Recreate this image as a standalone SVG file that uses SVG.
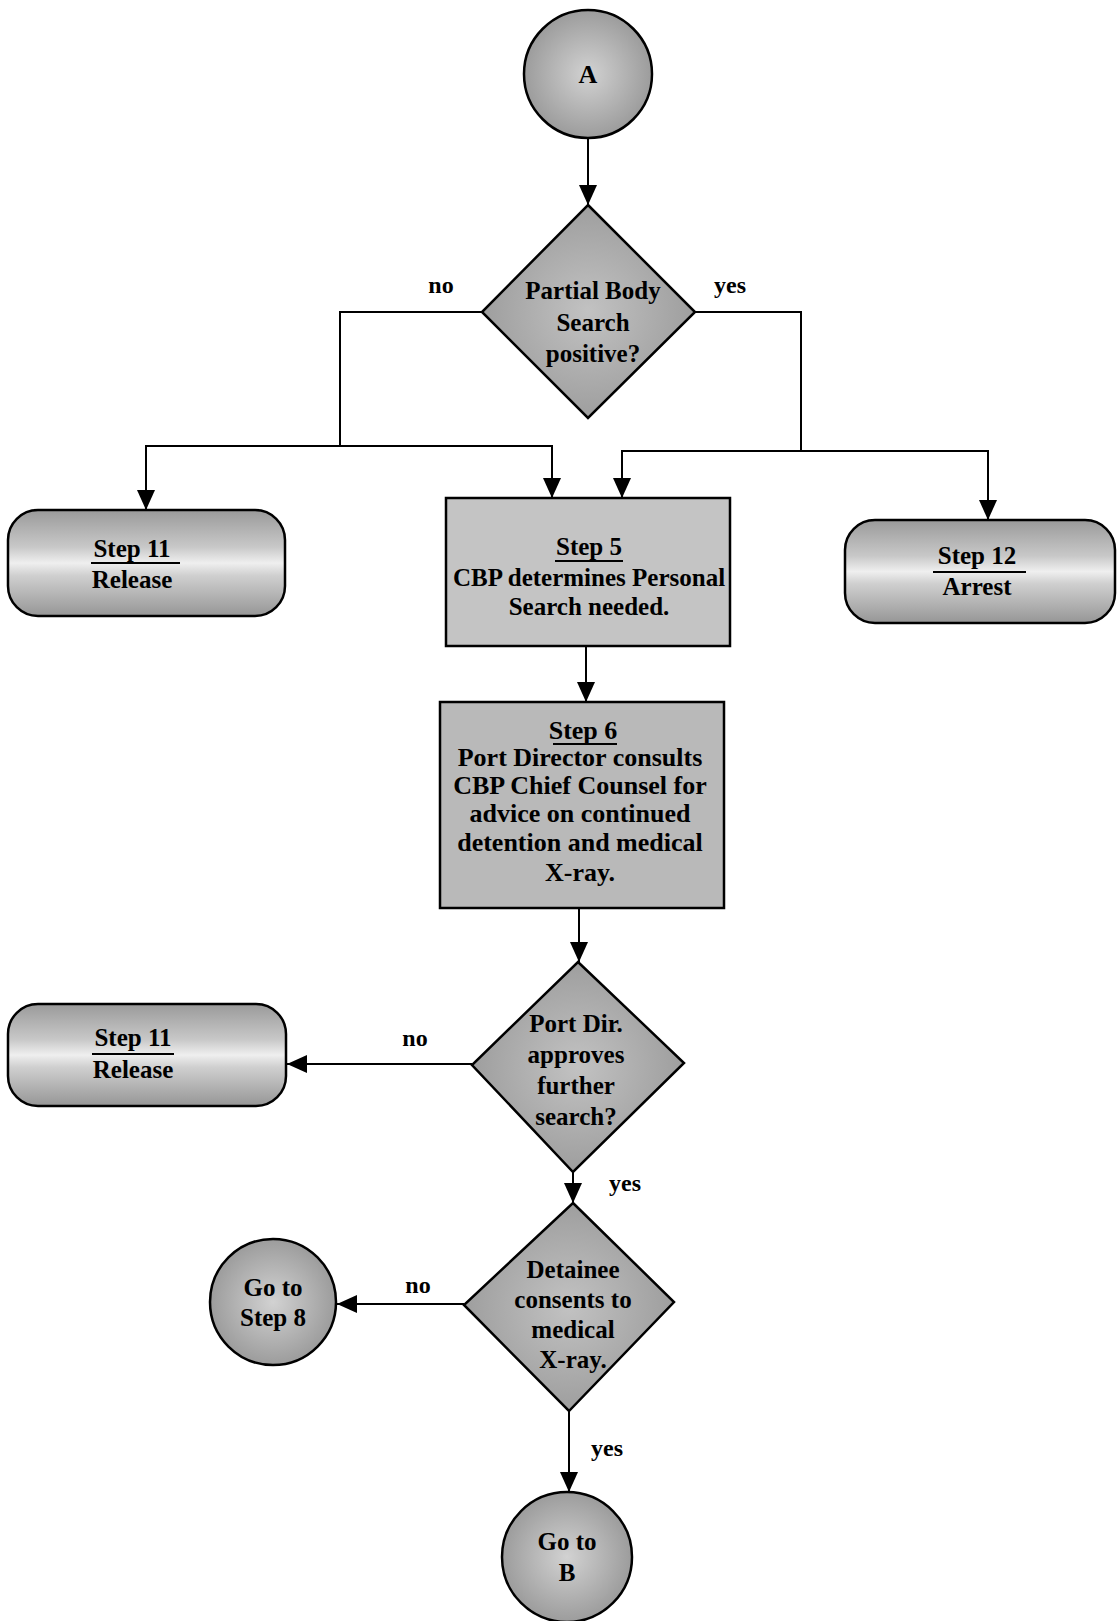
<svg xmlns="http://www.w3.org/2000/svg" width="1117" height="1621" viewBox="0 0 1117 1621">
<defs>
<style>
.shape{stroke:#000;stroke-width:2.5}
.circ{fill:url(#gCirc)}
.dia{fill:url(#gDia)}
.term{fill:url(#gTerm)}
.box5{fill:#c4c4c4}
.box6{fill:#b9b9b9}
.conn{fill:none;stroke:#000;stroke-width:2}
.arr{marker-end:url(#ah)}
text{font-family:"Liberation Serif","Times New Roman",serif;font-weight:bold;font-size:25px;fill:#000;text-anchor:middle}
.big{font-size:26px}
.lbl{font-size:24px}
.ul{stroke:#000;stroke-width:2}
</style>
<radialGradient id="gCirc" cx="0.5" cy="0.5" r="0.5">
<stop offset="0" stop-color="#d2d2d2"/>
<stop offset="1" stop-color="#9c9c9c"/>
</radialGradient>
<radialGradient id="gDia" cx="0.5" cy="0.5" r="0.5">
<stop offset="0" stop-color="#c2c2c2"/>
<stop offset="1" stop-color="#9e9e9e"/>
</radialGradient>
<linearGradient id="gTerm" x1="0" y1="0" x2="0" y2="1">
<stop offset="0" stop-color="#9a9a9a"/>
<stop offset="0.35" stop-color="#c8c8c8"/>
<stop offset="0.5" stop-color="#efefef"/>
<stop offset="0.62" stop-color="#cfcfcf"/>
<stop offset="1" stop-color="#969696"/>
</linearGradient>
<marker id="ah" viewBox="0 0 20 18" markerWidth="20" markerHeight="18" refX="20" refY="9" orient="auto" markerUnits="userSpaceOnUse">
<path d="M0,0 L20,9 L0,18 Z" fill="#000"/>
</marker>
</defs>
<rect width="1117" height="1621" fill="#fff"/>

<g id="connectors">
<path class="conn arr" d="M588,139 V205"/>
<path class="conn" d="M482,312 H340 V446"/>
<path class="conn arr" d="M340,446 H146 V510"/>
<path class="conn arr" d="M340,446 H552 V498"/>
<path class="conn" d="M695,312 H801 V451"/>
<path class="conn arr" d="M801,451 H622 V498"/>
<path class="conn arr" d="M801,451 H988 V520"/>
<path class="conn arr" d="M586,646 V702"/>
<path class="conn arr" d="M579,908 V962"/>
<path class="conn arr" d="M472,1064 H287"/>
<path class="conn arr" d="M573,1172 V1203"/>
<path class="conn arr" d="M464,1304 H337"/>
<path class="conn arr" d="M569,1411 V1492"/>
<text class="lbl" x="441" y="293">no</text>
<text class="lbl" x="730" y="293">yes</text>
<text class="lbl" x="415" y="1046">no</text>
<text class="lbl" x="625" y="1191">yes</text>
<text class="lbl" x="418" y="1293">no</text>
<text class="lbl" x="607" y="1456">yes</text>
</g>

<g id="nodeA">
<circle class="shape circ" cx="588" cy="74" r="64"/>
<text class="big" x="588" y="83">A</text>
</g>

<g id="decision1">
<polygon class="shape dia" points="588,205 695,312 588,418 482,312"/>
<text x="593" y="299">Partial Body</text>
<text x="593" y="331">Search</text>
<text x="593" y="362">positive?</text>
</g>

<g id="step11a">
<rect class="shape term" x="8" y="510" width="277" height="106" rx="30"/>
<text x="132" y="557">Step 11</text>
<line class="ul" x1="91" y1="563" x2="180" y2="563"/>
<text x="132" y="588">Release</text>
</g>

<g id="step5">
<rect class="shape box5" x="446" y="498" width="284" height="148"/>
<text x="589" y="555">Step 5</text>
<line class="ul" x1="555" y1="561" x2="623" y2="561"/>
<text x="589" y="586">CBP determines Personal</text>
<text x="589" y="615">Search needed.</text>
</g>

<g id="step12">
<rect class="shape term" x="845" y="520" width="270" height="103" rx="30"/>
<text x="977" y="564">Step 12</text>
<line class="ul" x1="933" y1="572" x2="1026" y2="572"/>
<text x="977" y="595">Arrest</text>
</g>

<g id="step6">
<rect class="shape box6" x="440" y="702" width="284" height="206"/>
<text class="big" x="583" y="739">Step 6</text>
<line class="ul" x1="553" y1="744" x2="617" y2="744"/>
<text class="big" x="580" y="766">Port Director consults</text>
<text class="big" x="580" y="794">CBP Chief Counsel for</text>
<text class="big" x="580" y="822">advice on continued</text>
<text class="big" x="580" y="851">detention and medical</text>
<text class="big" x="580" y="881">X-ray.</text>
</g>

<g id="decision2">
<polygon class="shape dia" points="578,962 684,1063 573,1172 472,1065"/>
<text x="576" y="1032">Port Dir.</text>
<text x="576" y="1063">approves</text>
<text x="576" y="1094">further</text>
<text x="576" y="1125">search?</text>
</g>

<g id="step11b">
<rect class="shape term" x="8" y="1004" width="278" height="102" rx="30"/>
<text x="133" y="1046">Step 11</text>
<line class="ul" x1="92" y1="1054" x2="174" y2="1054"/>
<text x="133" y="1078">Release</text>
</g>

<g id="decision3">
<polygon class="shape dia" points="573,1203 674,1302 569,1411 464,1305"/>
<text x="573" y="1278">Detainee</text>
<text x="573" y="1308">consents to</text>
<text x="573" y="1338">medical</text>
<text x="573" y="1368">X-ray.</text>
</g>

<g id="gotoStep8">
<circle class="shape circ" cx="273" cy="1302" r="63"/>
<text x="273" y="1296">Go to</text>
<text x="273" y="1326">Step 8</text>
</g>

<g id="gotoB">
<circle class="shape circ" cx="567" cy="1557" r="65"/>
<text x="567" y="1550">Go to</text>
<text x="567" y="1581">B</text>
</g>
</svg>
